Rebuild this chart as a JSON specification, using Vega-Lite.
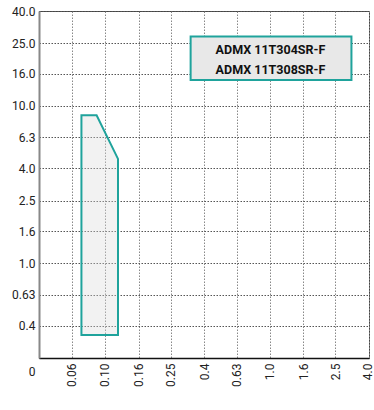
{
  "$schema": "https://vega.github.io/schema/vega-lite/v6.json",
  "width": 330,
  "height": 347,
  "autosize": {"type": "none"},
  "padding": {"left": 39, "top": 11, "right": 5, "bottom": 52},
  "background": "white",
  "config": {
    "view": {"stroke": "#444", "strokeWidth": 1},
    "axis": {
      "labelFont": "Roboto",
      "labelFontSize": 12,
      "labelColor": "#222",
      "ticks": false,
      "title": null,
      "grid": true,
      "gridDash": [1.5, 1.5],
      "gridColor": "#555",
      "gridWidth": 1
    }
  },
  "layer": [
    {
      "data": {"values": [
        {"fz": 0.072, "ap_top": 8.7, "ap_bottom": 0.35},
        {"fz": 0.089, "ap_top": 8.7, "ap_bottom": 0.35},
        {"fz": 0.12, "ap_top": 4.6, "ap_bottom": 0.35}
      ]},
      "mark": {"type": "area", "fill": "#d9d9d9", "fillOpacity": 0.35, "stroke": "#1fa39c", "strokeWidth": 2, "line": false},
      "encoding": {
        "x": {
          "field": "fz", "type": "quantitative",
          "scale": {"type": "log", "domain": [0.0398, 4], "nice": false},
          "axis": {
            "values": [0.063, 0.1, 0.16, 0.25, 0.4, 0.63, 1, 1.6, 2.5, 4],
            "labelAngle": -90,
            "labelPadding": 5,
            "labelOffset": {"condition": {"test": "datum.value > 3", "value": -2}, "value": 0},
            "labelExpr": "datum.value < 0.07 ? '0.06' : datum.value < 0.11 ? '0.10' : datum.value < 1 ? format(datum.value, '.2~f') : format(datum.value, '.1f')",
            "domainColor": "#111",
            "domainWidth": 1.5,
            "gridColor": "#888"
          }
        },
        "y": {
          "field": "ap_top", "type": "quantitative",
          "scale": {"type": "log", "domain": [0.25, 40], "nice": false},
          "axis": {
            "values": [0.25, 0.4, 0.63, 1, 1.6, 2.5, 4, 6.3, 10, 16, 25, 40],
            "labelPadding": 4,
            "labelExpr": "datum.value < 0.3 ? '0' : datum.value < 1 ? format(datum.value, '.2~f') : format(datum.value, '.1f')",
            "labelOffset": {"condition": {"test": "datum.value < 0.3", "value": 13}, "value": 0},
            "domainColor": "#888",
            "domainWidth": 2
          }
        },
        "y2": {"field": "ap_bottom"}
      }
    },
    {
      "data": {"values": [{"x1": 0.331, "x2": 3.13, "y1": 27.5, "y2": 14.6}]},
      "mark": {"type": "rect", "fill": "#e8e8e8", "stroke": "#1fa39c", "strokeWidth": 2},
      "encoding": {
        "x": {"field": "x1", "type": "quantitative"},
        "x2": {"field": "x2"},
        "y": {"field": "y1", "type": "quantitative"},
        "y2": {"field": "y2"}
      }
    },
    {
      "data": {"values": [
        {"label": "ADMX 11T304SR-F", "xc": 1.01, "yc": 22.6},
        {"label": "ADMX 11T308SR-F", "xc": 1.01, "yc": 17.0}
      ]},
      "mark": {"type": "text", "font": "Roboto", "fontWeight": "bold", "fontSize": 12.5, "color": "#111", "align": "center", "baseline": "middle"},
      "encoding": {
        "x": {"field": "xc", "type": "quantitative"},
        "y": {"field": "yc", "type": "quantitative"},
        "text": {"field": "label"}
      }
    }
  ]
}
